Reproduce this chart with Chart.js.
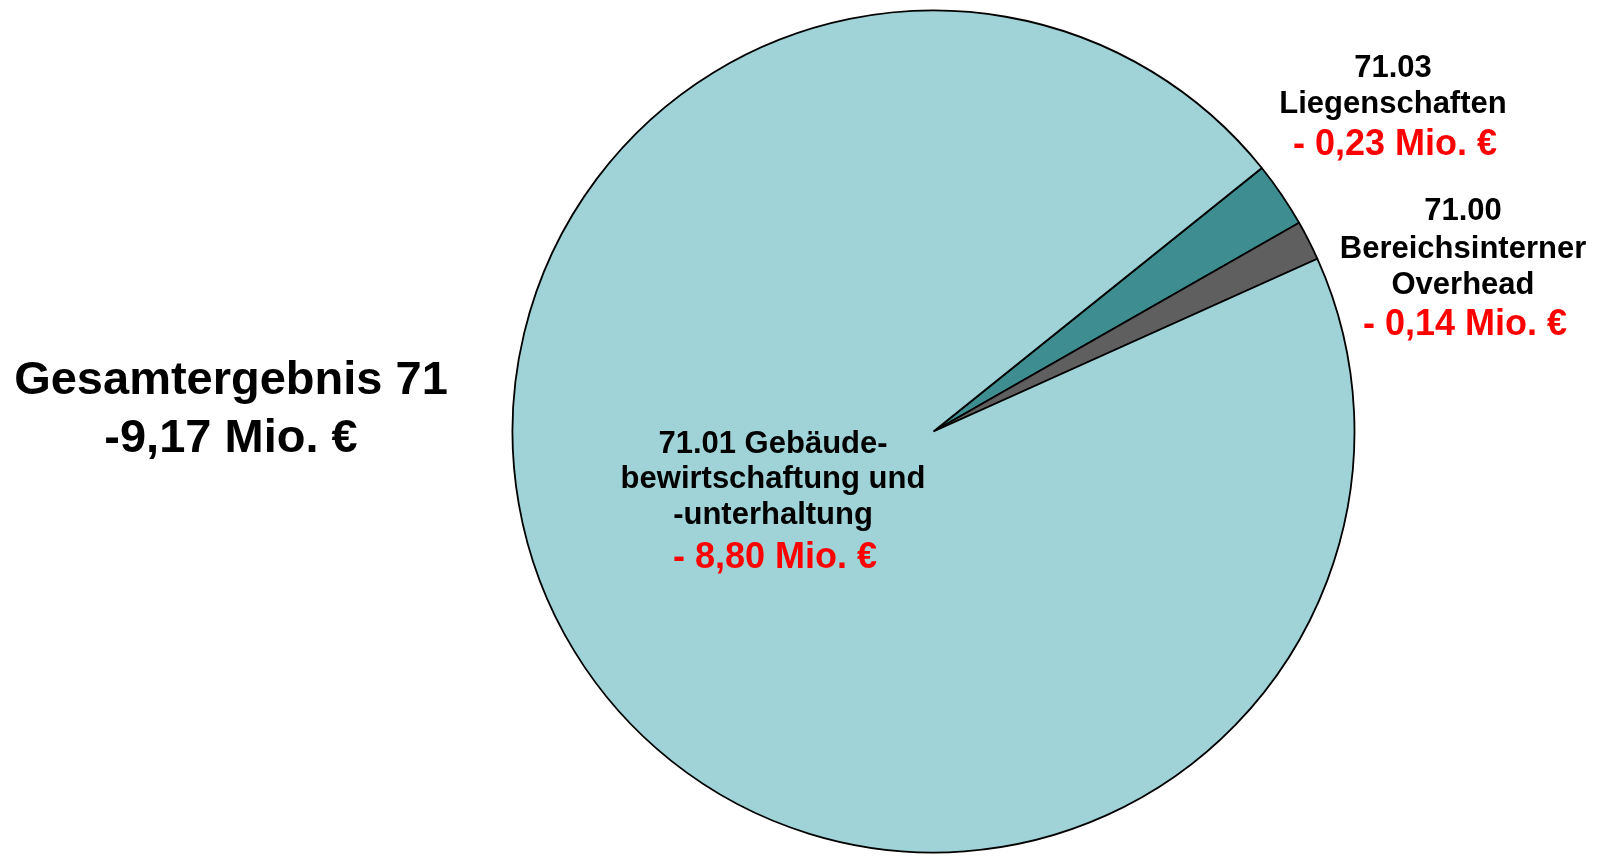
<!DOCTYPE html>
<html>
<head>
<meta charset="utf-8">
<script src="https://cdn.jsdelivr.net/npm/chart.js@4/dist/chart.umd.min.js"></script>
<style>
  html, body { margin: 0; padding: 0; background: #fff; }
  #wrap { position: relative; width: 1601px; height: 856px; }
</style>
</head>
<body>
<div id="wrap"><canvas id="chart" width="1601" height="856"></canvas></div>
<script>
  // slice order runs clockwise from the top-right edge
  const categories = ['71.03 Liegenschaften', '71.00 Bereichsinterner Overhead', '71.01 Gebäudebewirtschaftung und -unterhaltung'];
  const values = [0.23, 0.14, 8.80];
  const sliceColors = ['#3e8d91', '#5f5f5f', '#9fd3d7'];
  const totalLabel = ['Gesamtergebnis 71', '-9,17 Mio. €'];

  // label blocks: black lines then a red amount line (y = baselines)
  const labelBlocks = [
    { lines: ['71.03', 'Liegenschaften'], amount: '- 0,23 Mio. €', x: 1393, y: [77, 113, 155] },
    { lines: ['71.00', 'Bereichsinterner', 'Overhead'], amount: '- 0,14 Mio. €', x: 1463, y: [220, 258, 294, 335] },
    { lines: ['71.01 Gebäude-', 'bewirtschaftung und', '-unterhaltung'], amount: '- 8,80 Mio. €', x: 773, y: [453, 488, 524, 568] }
  ];

  const FONT = '"Liberation Sans", Arial, sans-serif';

  const textPlugin = {
    id: 'textLabels',
    afterDraw(chart) {
      const ctx = chart.ctx;
      ctx.save();
      ctx.textAlign = 'center';
      ctx.textBaseline = 'alphabetic';
      labelBlocks.forEach(b => {
        ctx.fillStyle = '#000';
        ctx.font = 'bold 31px ' + FONT;
        b.lines.forEach((t, i) => ctx.fillText(t, b.x, b.y[i]));
        ctx.fillStyle = '#ff0000';
        ctx.font = 'bold 36px ' + FONT;
        ctx.fillText(b.amount, b.x + 2, b.y[b.lines.length]);
      });
      ctx.fillStyle = '#000';
      ctx.font = 'bold 47px ' + FONT;
      ctx.fillText(totalLabel[0], 231, 394);
      ctx.fillText(totalLabel[1], 231, 452);
      ctx.restore();
    }
  };

  new Chart(document.getElementById('chart').getContext('2d'), {
    type: 'pie',
    data: {
      labels: categories,
      datasets: [{
        data: values,
        backgroundColor: sliceColors,
        borderColor: '#000',
        borderWidth: 1.8
      }]
    },
    options: {
      responsive: false,
      animation: false,
      rotation: 51.25,
      radius: 421,
      layout: { padding: { left: 512, right: 246, top: 10, bottom: 3 } },
      plugins: { legend: { display: false }, tooltip: { enabled: false } }
    },
    plugins: [textPlugin]
  });
</script>
</body>
</html>
